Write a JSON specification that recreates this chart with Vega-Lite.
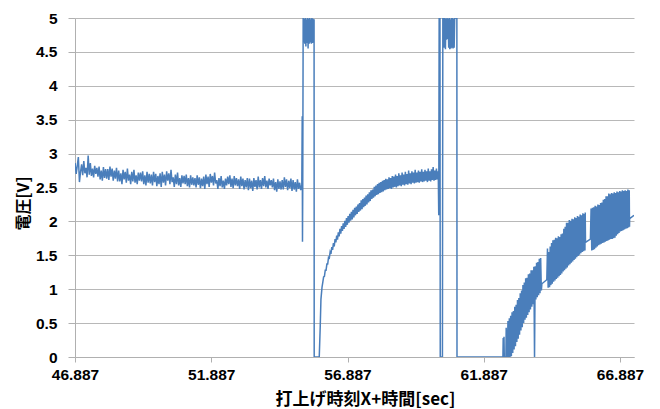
{
"$schema":"https://vega.github.io/schema/vega-lite/v6.json",
"autosize":{"type":"none"},
"padding":{"left":75,"top":18,"right":26,"bottom":52},
"width":559,"height":339,
"background":"white",
"config":{"view":{"stroke":null}},
"data":{"values":[
{"t":46.89,"v":2.86},{"t":46.93,"v":2.70},{"t":46.97,"v":2.82},{"t":47.01,"v":2.95},{"t":47.05,"v":2.58},{"t":47.09,"v":2.73},{"t":47.13,"v":2.84},{"t":47.17,"v":2.68},{"t":47.21,"v":2.89},{"t":47.25,"v":2.71},
{"t":47.29,"v":2.79},{"t":47.33,"v":2.65},{"t":47.37,"v":2.97},{"t":47.41,"v":2.69},{"t":47.45,"v":2.86},{"t":47.49,"v":2.67},{"t":47.53,"v":2.78},{"t":47.57,"v":2.65},{"t":47.61,"v":2.82},{"t":47.65,"v":2.70},
{"t":47.69,"v":2.79},{"t":47.73,"v":2.66},{"t":47.77,"v":2.81},{"t":47.81,"v":2.62},{"t":47.85,"v":2.75},{"t":47.89,"v":2.60},{"t":47.93,"v":2.80},{"t":47.97,"v":2.64},{"t":48.01,"v":2.77},{"t":48.05,"v":2.63},
{"t":48.09,"v":2.77},{"t":48.13,"v":2.61},{"t":48.17,"v":2.81},{"t":48.21,"v":2.66},{"t":48.25,"v":2.78},{"t":48.29,"v":2.60},{"t":48.33,"v":2.75},{"t":48.37,"v":2.63},{"t":48.41,"v":2.79},{"t":48.45,"v":2.59},
{"t":48.49,"v":2.75},{"t":48.53,"v":2.59},{"t":48.57,"v":2.71},{"t":48.61,"v":2.55},{"t":48.65,"v":2.76},{"t":48.69,"v":2.62},{"t":48.73,"v":2.73},{"t":48.77,"v":2.57},{"t":48.81,"v":2.78},{"t":48.85,"v":2.60},
{"t":48.89,"v":2.69},{"t":48.93,"v":2.55},{"t":48.97,"v":2.73},{"t":49.01,"v":2.59},{"t":49.05,"v":2.76},{"t":49.09,"v":2.57},{"t":49.13,"v":2.68},{"t":49.17,"v":2.55},{"t":49.21,"v":2.72},{"t":49.25,"v":2.60},
{"t":49.29,"v":2.72},{"t":49.33,"v":2.59},{"t":49.37,"v":2.74},{"t":49.41,"v":2.55},{"t":49.45,"v":2.68},{"t":49.49,"v":2.53},{"t":49.53,"v":2.73},{"t":49.57,"v":2.57},{"t":49.61,"v":2.70},{"t":49.65,"v":2.56},
{"t":49.69,"v":2.69},{"t":49.73,"v":2.53},{"t":49.77,"v":2.73},{"t":49.81,"v":2.58},{"t":49.85,"v":2.70},{"t":49.89,"v":2.52},{"t":49.93,"v":2.67},{"t":49.97,"v":2.55},{"t":50.01,"v":2.71},{"t":50.05,"v":2.51},
{"t":50.09,"v":2.73},{"t":50.13,"v":2.57},{"t":50.17,"v":2.69},{"t":50.21,"v":2.53},{"t":50.25,"v":2.74},{"t":50.29,"v":2.60},{"t":50.33,"v":2.71},{"t":50.37,"v":2.55},{"t":50.41,"v":2.76},{"t":50.45,"v":2.58},
{"t":50.49,"v":2.65},{"t":50.53,"v":2.51},{"t":50.57,"v":2.69},{"t":50.61,"v":2.55},{"t":50.65,"v":2.72},{"t":50.69,"v":2.53},{"t":50.73,"v":2.64},{"t":50.77,"v":2.51},{"t":50.81,"v":2.68},{"t":50.85,"v":2.56},
{"t":50.89,"v":2.67},{"t":50.93,"v":2.55},{"t":50.97,"v":2.69},{"t":51.01,"v":2.52},{"t":51.05,"v":2.64},{"t":51.09,"v":2.50},{"t":51.13,"v":2.68},{"t":51.17,"v":2.54},{"t":51.21,"v":2.65},{"t":51.25,"v":2.53},
{"t":51.29,"v":2.64},{"t":51.33,"v":2.50},{"t":51.37,"v":2.68},{"t":51.41,"v":2.54},{"t":51.45,"v":2.65},{"t":51.49,"v":2.49},{"t":51.53,"v":2.63},{"t":51.57,"v":2.52},{"t":51.61,"v":2.66},{"t":51.65,"v":2.48},
{"t":51.69,"v":2.69},{"t":51.73,"v":2.55},{"t":51.77,"v":2.66},{"t":51.81,"v":2.51},{"t":51.85,"v":2.70},{"t":51.89,"v":2.57},{"t":51.93,"v":2.67},{"t":51.97,"v":2.53},{"t":52.01,"v":2.72},{"t":52.05,"v":2.56},
{"t":52.09,"v":2.61},{"t":52.13,"v":2.48},{"t":52.17,"v":2.64},{"t":52.21,"v":2.52},{"t":52.25,"v":2.67},{"t":52.29,"v":2.50},{"t":52.33,"v":2.60},{"t":52.37,"v":2.48},{"t":52.41,"v":2.63},{"t":52.45,"v":2.53},
{"t":52.49,"v":2.66},{"t":52.53,"v":2.55},{"t":52.57,"v":2.68},{"t":52.61,"v":2.51},{"t":52.65,"v":2.63},{"t":52.69,"v":2.49},{"t":52.73,"v":2.67},{"t":52.77,"v":2.53},{"t":52.81,"v":2.64},{"t":52.85,"v":2.52},
{"t":52.89,"v":2.62},{"t":52.93,"v":2.48},{"t":52.97,"v":2.66},{"t":53.01,"v":2.52},{"t":53.05,"v":2.63},{"t":53.09,"v":2.47},{"t":53.13,"v":2.61},{"t":53.17,"v":2.50},{"t":53.21,"v":2.64},{"t":53.25,"v":2.46},
{"t":53.29,"v":2.63},{"t":53.33,"v":2.49},{"t":53.37,"v":2.60},{"t":53.41,"v":2.45},{"t":53.45,"v":2.64},{"t":53.49,"v":2.51},{"t":53.53,"v":2.61},{"t":53.57,"v":2.47},{"t":53.61,"v":2.66},{"t":53.65,"v":2.50},
{"t":53.69,"v":2.61},{"t":53.73,"v":2.48},{"t":53.77,"v":2.64},{"t":53.81,"v":2.52},{"t":53.85,"v":2.67},{"t":53.89,"v":2.50},{"t":53.93,"v":2.60},{"t":53.97,"v":2.48},{"t":54.01,"v":2.63},{"t":54.05,"v":2.53},
{"t":54.09,"v":2.61},{"t":54.13,"v":2.50},{"t":54.17,"v":2.63},{"t":54.21,"v":2.46},{"t":54.25,"v":2.58},{"t":54.29,"v":2.44},{"t":54.33,"v":2.62},{"t":54.37,"v":2.48},{"t":54.41,"v":2.59},{"t":54.45,"v":2.47},
{"t":54.49,"v":2.61},{"t":54.53,"v":2.47},{"t":54.57,"v":2.65},{"t":54.61,"v":2.51},{"t":54.65,"v":2.62},{"t":54.69,"v":2.46},{"t":54.73,"v":2.60},{"t":54.77,"v":2.49},{"t":54.81,"v":2.63},{"t":54.85,"v":2.45},
{"t":54.89,"v":2.61},{"t":54.93,"v":2.47},{"t":54.97,"v":2.58},{"t":55.01,"v":2.44},{"t":55.05,"v":2.62},{"t":55.09,"v":2.48},{"t":55.13,"v":2.57},{"t":55.17,"v":2.46},{"t":55.21,"v":2.54},
{"t":55.225,"v":3.55},{"t":55.235,"v":1.70},{"t":55.245,"v":2.55},
{"t":55.26,"v":5.00},{"t":55.28,"v":4.64},{"t":55.30,"v":4.99},{"t":55.32,"v":4.62},{"t":55.34,"v":5.00},{"t":55.36,"v":4.58},{"t":55.38,"v":4.98},{"t":55.40,"v":4.63},{"t":55.42,"v":5.00},{"t":55.44,"v":4.55},{"t":55.46,"v":4.99},{"t":55.48,"v":4.62},{"t":55.50,"v":5.00},{"t":55.52,"v":4.64},{"t":55.54,"v":4.98},{"t":55.56,"v":4.62},{"t":55.58,"v":5.00},{"t":55.60,"v":4.63},{"t":55.62,"v":4.99},{"t":55.64,"v":4.64},{"t":55.66,"v":4.98},
{"t":55.665,"v":0.00},{"t":55.85,"v":0.00},{"t":55.886,"v":0.45},{"t":55.912,"v":0.85},{"t":55.952,"v":1.03},
{"t":55.98,"v":1.10},{"t":56.01,"v":1.18},{"t":56.04,"v":1.19},{"t":56.07,"v":1.28},{"t":56.10,"v":1.28},{"t":56.13,"v":1.37},{"t":56.16,"v":1.37},{"t":56.19,"v":1.47},{"t":56.22,"v":1.46},{"t":56.25,"v":1.55},{"t":56.28,"v":1.52},{"t":56.31,"v":1.62},{"t":56.34,"v":1.58},{"t":56.37,"v":1.68},{"t":56.40,"v":1.63},{"t":56.43,"v":1.74},{"t":56.46,"v":1.69},{"t":56.49,"v":1.79},{"t":56.52,"v":1.73},{"t":56.55,"v":1.84},{"t":56.58,"v":1.78},{"t":56.61,"v":1.89},{"t":56.64,"v":1.82},{"t":56.67,"v":1.93},{"t":56.70,"v":1.86},{"t":56.73,"v":1.97},{"t":56.76,"v":1.89},{"t":56.79,"v":2.01},{"t":56.82,"v":1.92},{"t":56.85,"v":2.05},{"t":56.88,"v":1.95},{"t":56.91,"v":2.08},{"t":56.94,"v":1.98},{"t":56.97,"v":2.11},{"t":57.00,"v":2.01},{"t":57.03,"v":2.14},{"t":57.06,"v":2.03},{"t":57.09,"v":2.17},{"t":57.12,"v":2.06},{"t":57.15,"v":2.20},{"t":57.18,"v":2.09},{"t":57.21,"v":2.22},{"t":57.24,"v":2.11},{"t":57.27,"v":2.25},{"t":57.30,"v":2.14},{"t":57.33,"v":2.27},{"t":57.36,"v":2.16},{"t":57.39,"v":2.31},{"t":57.42,"v":2.18},{"t":57.45,"v":2.33},{"t":57.48,"v":2.21},{"t":57.51,"v":2.35},{"t":57.54,"v":2.23},{"t":57.57,"v":2.38},{"t":57.60,"v":2.25},{"t":57.63,"v":2.40},{"t":57.66,"v":2.28},{"t":57.69,"v":2.43},{"t":57.72,"v":2.30},{"t":57.75,"v":2.46},{"t":57.78,"v":2.33},{"t":57.81,"v":2.47},{"t":57.84,"v":2.35},{"t":57.87,"v":2.51},{"t":57.90,"v":2.37},{"t":57.93,"v":2.53},{"t":57.96,"v":2.39},{"t":57.99,"v":2.55},{"t":58.02,"v":2.40},{"t":58.05,"v":2.57},{"t":58.08,"v":2.42},{"t":58.11,"v":2.58},{"t":58.14,"v":2.43},{"t":58.17,"v":2.60},{"t":58.20,"v":2.44},{"t":58.23,"v":2.61},{"t":58.26,"v":2.46},{"t":58.29,"v":2.63},{"t":58.32,"v":2.47},{"t":58.35,"v":2.62},{"t":58.38,"v":2.48},{"t":58.41,"v":2.65},{"t":58.44,"v":2.49},{"t":58.47,"v":2.64},{"t":58.50,"v":2.48},{"t":58.53,"v":2.67},{"t":58.56,"v":2.50},{"t":58.59,"v":2.66},{"t":58.62,"v":2.51},{"t":58.65,"v":2.69},{"t":58.68,"v":2.50},{"t":58.71,"v":2.67},{"t":58.74,"v":2.52},{"t":58.77,"v":2.71},{"t":58.80,"v":2.53},{"t":58.83,"v":2.68},{"t":58.86,"v":2.52},{"t":58.89,"v":2.72},{"t":58.92,"v":2.54},{"t":58.95,"v":2.69},{"t":58.98,"v":2.53},{"t":59.01,"v":2.73},{"t":59.04,"v":2.55},{"t":59.07,"v":2.70},{"t":59.10,"v":2.54},{"t":59.13,"v":2.75},{"t":59.16,"v":2.56},{"t":59.19,"v":2.71},{"t":59.22,"v":2.55},{"t":59.25,"v":2.74},{"t":59.28,"v":2.57},{"t":59.31,"v":2.72},{"t":59.34,"v":2.56},{"t":59.37,"v":2.76},{"t":59.40,"v":2.57},{"t":59.43,"v":2.72},{"t":59.46,"v":2.58},{"t":59.49,"v":2.75},{"t":59.52,"v":2.57},{"t":59.55,"v":2.73},{"t":59.58,"v":2.59},{"t":59.61,"v":2.77},{"t":59.64,"v":2.58},{"t":59.67,"v":2.73},{"t":59.70,"v":2.59},{"t":59.73,"v":2.76},{"t":59.76,"v":2.60},{"t":59.79,"v":2.74},{"t":59.82,"v":2.58},{"t":59.85,"v":2.78},{"t":59.88,"v":2.60},{"t":59.91,"v":2.74},{"t":59.94,"v":2.59},{"t":59.97,"v":2.77},{"t":60.00,"v":2.61},{"t":60.03,"v":2.80},{"t":60.06,"v":2.60},{"t":60.09,"v":2.75},{"t":60.12,"v":2.61},{"t":60.15,"v":2.78},{"t":60.18,"v":2.62},{"t":60.20,"v":2.74},{"t":60.22,"v":2.61},{"t":60.235,"v":2.09},
{"t":60.25,"v":5.00},{"t":60.28,"v":5.00},{"t":60.29,"v":0.00},{"t":60.37,"v":0.00},{"t":60.385,"v":5.00},
{"t":60.40,"v":4.68},{"t":60.42,"v":5.00},{"t":60.44,"v":4.56},{"t":60.46,"v":5.00},{"t":60.48,"v":4.54},{"t":60.50,"v":4.99},{"t":60.52,"v":4.68},{"t":60.54,"v":5.00},{"t":60.56,"v":4.69},{"t":60.58,"v":4.99},{"t":60.60,"v":4.56},{"t":60.62,"v":5.00},{"t":60.64,"v":4.54},{"t":60.66,"v":4.98},{"t":60.68,"v":4.55},{"t":60.70,"v":5.00},{"t":60.72,"v":4.56},{"t":60.74,"v":5.00},{"t":60.76,"v":4.55},{"t":60.78,"v":4.99},{"t":60.80,"v":4.56},{"t":60.82,"v":5.00},{"t":60.90,"v":5.00},{"t":60.905,"v":0.00},
{"t":62.59,"v":0.00},{"t":62.60,"v":0.28},{"t":62.61,"v":0.00},{"t":62.63,"v":0.30},{"t":62.64,"v":0.00},{"t":62.70,"v":0.00},{"t":62.71,"v":0.43},{"t":62.72,"v":0.00},{"t":62.74,"v":0.40},{"t":62.75,"v":0.00},
{"t":62.775,"v":0.53},{"t":62.800,"v":0.00},{"t":62.825,"v":0.57},{"t":62.850,"v":0.00},{"t":62.875,"v":0.61},{"t":62.900,"v":0.01},{"t":62.925,"v":0.66},{"t":62.950,"v":0.06},{"t":62.975,"v":0.68},{"t":63.000,"v":0.11},{"t":63.025,"v":0.74},{"t":63.050,"v":0.16},{"t":63.075,"v":0.77},{"t":63.100,"v":0.22},{"t":63.125,"v":0.84},{"t":63.150,"v":0.27},{"t":63.175,"v":0.87},{"t":63.200,"v":0.33},{"t":63.225,"v":0.94},{"t":63.250,"v":0.39},{"t":63.275,"v":0.98},{"t":63.300,"v":0.44},{"t":63.325,"v":1.06},{"t":63.350,"v":0.50},{"t":63.375,"v":1.10},{"t":63.400,"v":0.55},{"t":63.425,"v":1.16},{"t":63.450,"v":0.58},{"t":63.475,"v":1.17},{"t":63.500,"v":0.62},{"t":63.525,"v":1.22},{"t":63.550,"v":0.66},{"t":63.575,"v":1.23},{"t":63.600,"v":0.70},{"t":63.625,"v":1.28},{"t":63.650,"v":0.74},{"t":63.675,"v":1.28},{"t":63.700,"v":0.78},{"t":63.725,"v":1.33},{"t":63.750,"v":0.00},{"t":63.775,"v":1.34},{"t":63.800,"v":0.85},{"t":63.825,"v":1.39},{"t":63.850,"v":0.88},{"t":63.875,"v":1.40},{"t":63.900,"v":0.91},{"t":63.925,"v":1.45},{"t":63.950,"v":0.94},{"t":63.975,"v":1.46},{"t":64.000,"v":0.98},{"t":64.020,"v":1.08},{"t":64.200,"v":1.14},
{"t":64.225,"v":1.60},{"t":64.250,"v":1.02},{"t":64.275,"v":1.55},{"t":64.300,"v":1.03},{"t":64.325,"v":1.63},{"t":64.350,"v":1.06},{"t":64.375,"v":1.68},{"t":64.400,"v":1.08},{"t":64.425,"v":1.72},{"t":64.450,"v":1.11},{"t":64.475,"v":1.73},{"t":64.500,"v":1.13},{"t":64.525,"v":1.76},{"t":64.550,"v":1.15},{"t":64.575,"v":1.75},{"t":64.600,"v":1.17},{"t":64.625,"v":1.78},{"t":64.650,"v":1.19},{"t":64.675,"v":1.77},{"t":64.700,"v":1.21},{"t":64.725,"v":1.81},{"t":64.750,"v":1.23},{"t":64.775,"v":1.82},{"t":64.800,"v":1.26},{"t":64.825,"v":1.89},{"t":64.850,"v":1.28},{"t":64.875,"v":1.92},{"t":64.900,"v":1.30},{"t":64.925,"v":1.98},{"t":64.950,"v":1.32},{"t":64.975,"v":1.98},{"t":65.000,"v":1.35},{"t":65.025,"v":2.02},{"t":65.050,"v":1.37},{"t":65.075,"v":2.01},{"t":65.100,"v":1.39},{"t":65.125,"v":2.04},{"t":65.150,"v":1.41},{"t":65.175,"v":2.03},{"t":65.200,"v":1.43},{"t":65.225,"v":2.06},{"t":65.250,"v":1.45},{"t":65.275,"v":2.05},{"t":65.300,"v":1.47},{"t":65.325,"v":2.08},{"t":65.350,"v":1.49},{"t":65.375,"v":2.07},{"t":65.400,"v":1.51},{"t":65.425,"v":2.10},{"t":65.450,"v":1.53},{"t":65.475,"v":2.09},{"t":65.500,"v":1.55},{"t":65.525,"v":2.12},{"t":65.550,"v":1.56},{"t":65.575,"v":2.11},{"t":65.600,"v":1.57},{"t":65.610,"v":2.13},{"t":65.620,"v":1.69},{"t":65.800,"v":1.74},
{"t":65.825,"v":2.19},{"t":65.850,"v":1.57},{"t":65.875,"v":2.20},{"t":65.900,"v":1.58},{"t":65.925,"v":2.21},{"t":65.950,"v":1.59},{"t":65.975,"v":2.23},{"t":66.000,"v":1.61},{"t":66.025,"v":2.22},{"t":66.050,"v":1.63},{"t":66.075,"v":2.25},{"t":66.100,"v":1.65},{"t":66.125,"v":2.24},{"t":66.150,"v":1.66},{"t":66.175,"v":2.27},{"t":66.200,"v":1.67},{"t":66.225,"v":2.28},{"t":66.250,"v":1.68},{"t":66.275,"v":2.32},{"t":66.300,"v":1.69},{"t":66.325,"v":2.33},{"t":66.350,"v":1.70},{"t":66.375,"v":2.37},{"t":66.400,"v":1.71},{"t":66.425,"v":2.37},{"t":66.450,"v":1.72},{"t":66.475,"v":2.41},{"t":66.500,"v":1.73},{"t":66.525,"v":2.40},{"t":66.550,"v":1.74},{"t":66.575,"v":2.42},{"t":66.600,"v":1.74},{"t":66.625,"v":2.41},{"t":66.650,"v":1.75},{"t":66.675,"v":2.43},{"t":66.700,"v":1.76},{"t":66.725,"v":2.42},{"t":66.750,"v":1.79},{"t":66.775,"v":2.44},{"t":66.800,"v":1.81},{"t":66.825,"v":2.43},{"t":66.850,"v":1.83},{"t":66.875,"v":2.45},{"t":66.900,"v":1.85},{"t":66.925,"v":2.44},{"t":66.950,"v":1.86},{"t":66.975,"v":2.46},{"t":67.000,"v":1.87},{"t":67.025,"v":2.45},{"t":67.050,"v":1.88},{"t":67.075,"v":2.46},{"t":67.100,"v":1.89},{"t":67.125,"v":2.45},{"t":67.150,"v":1.90},{"t":67.175,"v":2.47},{"t":67.200,"v":1.91},{"t":67.225,"v":2.46},{"t":67.235,"v":1.92},{"t":67.240,"v":2.04},{"t":67.400,"v":2.09}
]},
"mark":{"type":"line","color":"#4a7ebb","strokeWidth":1.5,"clip":true},
"encoding":{
"x":{"field":"t","type":"quantitative","sort":null,
 "scale":{"domain":[46.887,67.4],"nice":false,"zero":false},
 "axis":{"values":[46.887,51.887,56.887,61.887,66.887],"format":".3f","grid":false,
  "domainColor":"#b0b0b0","tickColor":"#b0b0b0","tickSize":5,
  "labelFont":"Liberation Sans","labelFontWeight":"bold","labelFontSize":15.5,"labelColor":"#000","labelPadding":5.5,"labelFlush":false,
  "title":"打上げ時刻X+時間[sec]","titleFont":"Noto Sans CJK JP","titleFontWeight":"bold","titleFontSize":17,"titleColor":"#000","titlePadding":8,"titleX":290}},
"y":{"field":"v","type":"quantitative",
 "scale":{"domain":[0,5],"nice":false},
 "axis":{"values":[0,0.5,1,1.5,2,2.5,3,3.5,4,4.5,5],"format":"~g","grid":true,"gridColor":"#b8b8b8",
  "domainColor":"#b0b0b0","tickColor":"#b0b0b0","tickSize":7,
  "labelFont":"Liberation Sans","labelFontWeight":"bold","labelFontSize":15.5,"labelColor":"#000","labelPadding":11,
  "title":"電圧[V]","titleFont":"Noto Sans CJK JP","titleFontWeight":"bold","titleFontSize":16,"titleColor":"#000","titleX":-52,"titleY":185,"titleAlign":"center","titleBaseline":"middle","titleAngle":-90}}
}
}
